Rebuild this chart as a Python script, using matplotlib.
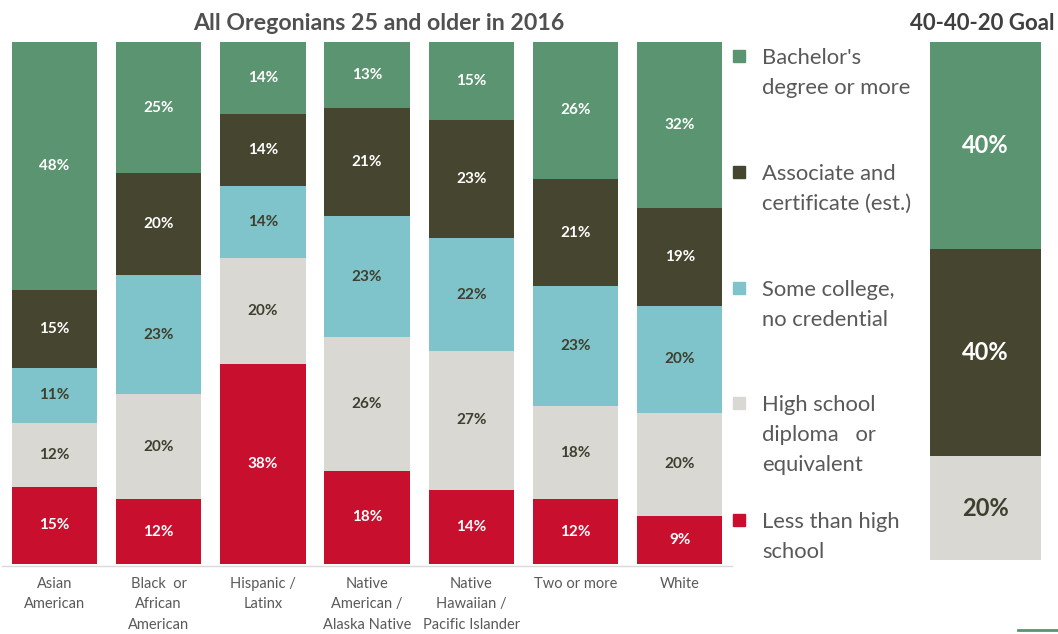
import matplotlib
matplotlib.use("Agg")
import matplotlib.pyplot as plt
from matplotlib.patches import Rectangle

plt.rcParams['font.family'] = ['Lato', 'DejaVu Sans']

categories = ["Asian\nAmerican", "Black  or\nAfrican\nAmerican", "Hispanic /\nLatinx",
              "Native\nAmerican /\nAlaska Native", "Native\nHawaiian /\nPacific Islander",
              "Two or more", "White"]
less_hs   = [14.8, 12.4, 38.4, 17.9, 14.2, 12.4, 9.2]
hs_dip    = [12.2, 20.1, 20.2, 25.6, 26.6, 17.8, 19.8]
some_col  = [10.6, 22.8, 13.8, 23.1, 21.6, 23.0, 20.4]
assoc     = [14.8, 19.6, 13.8, 20.8, 22.7, 20.6, 18.8]
bachelor  = [47.6, 25.1, 13.8, 12.6, 14.9, 26.2, 31.8]

goal_labels = ["High school", "Associate", "Bachelor"]
goal_values = [20, 40, 40]

series = [less_hs, hs_dip, some_col, assoc, bachelor]
names = ["Less than high\nschool", "High school\ndiploma   or\nequivalent",
         "Some college,\nno credential", "Associate and\ncertificate (est.)",
         "Bachelor's\ndegree or more"]
colors = ["#C8102E", "#D9D8D3", "#7EC4CA", "#46452F", "#5B9470"]
text_colors = ["white", "#3F3F2F", "#3F3F2F", "white", "white"]
gray = "#595959"

W, H = 1058, 634
fig = plt.figure(figsize=(W / 100, H / 100), dpi=100)

def px_axes(x0, y_top, w, h):
    return fig.add_axes([x0 / W, (H - y_top - h) / H, w / W, h / H])

ax = px_axes(2.4, 42, 729.4, 522)
x = list(range(len(categories)))
bottom = [0.0] * len(categories)
for vals, col, tc in zip(series, colors, text_colors):
    ax.bar(x, vals, width=0.82, bottom=bottom, color=col, edgecolor='none')
    for i, v in enumerate(vals):
        ax.text(i, bottom[i] + v / 2, f"{round(v)}%", ha='center', va='center',
                color=tc, fontsize=11, fontweight='bold')
    bottom = [b + v for b, v in zip(bottom, vals)]
ax.set_xlim(-0.5, len(categories) - 0.5)
ax.set_ylim(0, 100)
ax.axis('off')
for i, c in enumerate(categories):
    ax.text(i, -2.4, c, ha='center', va='top', fontsize=10.5, color=gray,
            linespacing=1.62, transform=ax.transData)
ax.plot([-0.5, 6.5], [-0.4, -0.4], color="#D9D9D9", lw=1, clip_on=False)

fig.text(379 / W, 1 - 23 / H, "All Oregonians 25 and older in 2016", ha='center', va='center',
         fontsize=16.7, fontweight='bold', color="#505050")

# legend
leg_y = [[520, 549], [403, 432, 461], [288, 317], [172, 201], [56, 85]]
for name, col, ys in zip(names, colors, leg_y):
    fig.patches.append(Rectangle((733 / W, 1 - (ys[0] + 6) / H), 12 / W, 12 / H,
                                 transform=fig.transFigure, color=col))
    fig.text(762 / W, 1 - (ys[0] - 8) / H, name, ha='left', va='top', fontsize=15.8,
             color=gray, linespacing=1.62)

# goal bar
gax = px_axes(920.5, 42, 130, 518)
gcols = [colors[1], colors[3], colors[4]]
gtc = [text_colors[1], text_colors[3], text_colors[4]]
b = 0
for lab, v, col, tc in zip(goal_labels, goal_values, gcols, gtc):
    gax.bar(0, v, width=111 / 130, bottom=b, color=col, edgecolor='none')
    gax.text(0, b + v / 2, f"{v}%", ha='center', va='center', color=tc, fontsize=17,
             fontweight='bold')
    b += v
gax.set_xlim(-0.5, 0.5)
gax.set_ylim(0, 100)
gax.axis('off')
fig.text(1054 / W, 1 - 23 / H, "40-40-20 Goal", ha='right', va='center', fontsize=16,
         fontweight='bold', color="#3F3F3F")
fig.lines.append(plt.Line2D([1018 / W, 1058 / W], [1 - 630 / H] * 2, transform=fig.transFigure,
                            color="#5B9470", lw=2))

fig.savefig("out.png", dpi=100, facecolor='white')
